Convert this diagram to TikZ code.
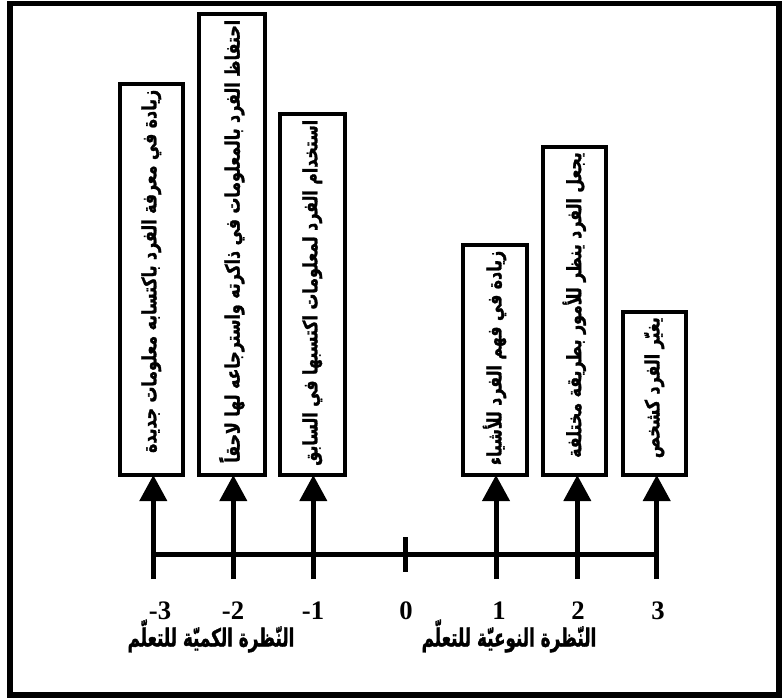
\documentclass[tikz,border=0pt]{standalone}
\usepackage{fontspec}
\setmainfont{Liberation Serif}
\newfontfamily\arabicfont[Script=Arabic,FakeBold=1.6]{DejaVu Sans Bold}
\TeXXeTstate=1
\usetikzlibrary{arrows.meta,calc}
\newcommand{\artxt}[1]{\scalebox{0.8}[1]{\arabicfont\fontsize{14.8}{16}\selectfont\beginR #1\endR}}
\newcommand{\arcap}[1]{\scalebox{0.68}[1]{\arabicfont\fontsize{18.5}{20}\selectfont\beginR #1\endR}}
\tikzset{
  frame/.style={line width=4.2pt},
  box/.style={draw,line width=3pt,inner sep=0pt,outer sep=0pt},
  lbl/.style={rotate=90,anchor=east,inner sep=0pt},
  arr/.style={line width=3.75pt,-{Triangle[length=19.5pt,width=20pt]}},
  axisline/.style={line width=3.75pt},
  num/.style={font=\bfseries\fontsize{20}{22}\selectfont,inner sep=0pt},
  captxt/.style={inner sep=0pt}
}
\begin{document}
\begin{tikzpicture}[x=0.75pt,y=-0.75pt]
\useasboundingbox (0,0) rectangle (784,698);
\draw[frame] (10,3.5) rectangle (779,695);
% boxes
\node[box,minimum width=63.5*0.75pt,minimum height=390.5*0.75pt] (bm3) at (151.25,279.75) {};
\node[box,minimum width=65.5*0.75pt,minimum height=460.5*0.75pt] (bm2) at (231.75,244.75) {};
\node[box,minimum width=65.5*0.75pt,minimum height=360.5*0.75pt] (bm1) at (312.25,294.75) {};
\node[box,minimum width=64*0.75pt,minimum height=229.5*0.75pt] (bp1) at (494.5,360.25) {};
\node[box,minimum width=63.5*0.75pt,minimum height=328*0.75pt] (bp2) at (574.25,311) {};
\node[box,minimum width=63.5*0.75pt,minimum height=163*0.75pt] (bp3) at (654.25,393.5) {};
% texts
\node[lbl] (tm3) at ($(bm3.north)+(0,5)$) {\artxt{زيادة في معرفة الفرد باكتسابه معلومات جديدة}};
\node[lbl] (tm2) at ($(bm2.north)+(0,5)$) {\artxt{احتفاظ الفرد بالمعلومات في ذاكرته واسترجاعه لها لاحقاً}};
\node[lbl] (tm1) at ($(bm1.north)+(0,5)$) {\artxt{استخدام الفرد لمعلومات اكتسبها في السابق}};
\node[lbl] (tp1) at ($(bp1.north)+(0,5)$) {\artxt{زيادة في فهم الفرد للأشياء}};
\node[lbl] (tp2) at ($(bp2.north)+(0,5)$) {\artxt{يجعل الفرد ينظر للأمور بطريقة مختلفة}};
\node[lbl] (tp3) at ($(bp3.north)+(0,5)$) {\artxt{يغيّر الفرد كشخص}};
% axis
\coordinate (pm3) at (153.3,579);
\coordinate (pm2) at (233.3,579);
\coordinate (pm1) at (313.3,579);
\coordinate (pp1) at (496,579);
\coordinate (pp2) at (577.3,579);
\coordinate (pp3) at (656.7,579);
\coordinate (ax) at (0,554);
\coordinate (t0a) at (405,537);
\coordinate (t0b) at (405,572);
\draw[axisline] (pm3 |- ax) -- (pp3 |- ax);
\draw[axisline] (t0a) -- (t0b);
\draw[arr] (pm3) -- (pm3 |- bm3.south);
\draw[arr] (pm2) -- (pm2 |- bm2.south);
\draw[arr] (pm1) -- (pm1 |- bm1.south);
\draw[arr] (pp1) -- (pp1 |- bp1.south);
\draw[arr] (pp2) -- (pp2 |- bp2.south);
\draw[arr] (pp3) -- (pp3 |- bp3.south);
% numbers
\node[num] (nm3) at (160,611) {-3};
\node[num] (nm2) at (233,611) {-2};
\node[num] (nm1) at (313,611) {-1};
\node[num] (n0) at (406,611) {0};
\node[num] (np1) at (499,611) {1};
\node[num] (np2) at (578,611) {2};
\node[num] (np3) at (658,611) {3};
% captions
\node[captxt] (cl) at (211,636) {\arcap{النّظرة الكميّة للتعلّم}};
\node[captxt] (cr) at (509,636) {\arcap{النّظرة النوعيّة للتعلّم}};
\end{tikzpicture}
\end{document}
